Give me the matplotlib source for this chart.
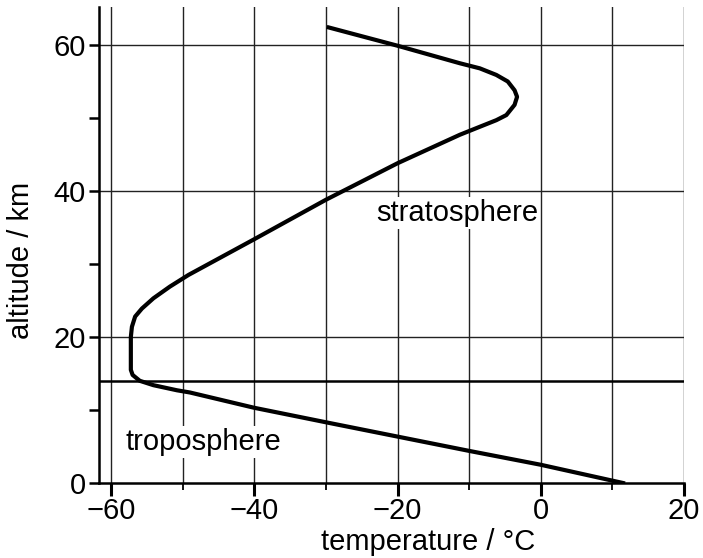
import numpy as np
import matplotlib.pyplot as plt
from matplotlib.ticker import MultipleLocator

plt.rcParams['font.family'] = ['Liberation Sans', 'DejaVu Sans']

# temperature profile (degC, km)
temp = [11.5, 0.0, -10.0, -29.4, -40.0, -49.0, -50.8, -54.1, -56.0, -57.0,
        -57.25, -57.25, -57.1, -56.65, -55.7, -54.1, -51.8, -49.2, -40.0, -30.0,
        -20.0, -11.3, -8.5, -6.2, -4.8, -3.65, -3.3, -3.65, -4.6, -6.2,
        -8.5, -11.3, -20.0, -29.6]
alt = [0.0, 2.5, 4.4, 8.2, 10.3, 12.4, 12.7, 13.4, 14.0, 14.8,
       15.5, 20.0, 21.4, 22.8, 23.9, 25.3, 26.9, 28.5, 33.4, 38.8,
       43.8, 47.7, 48.8, 49.7, 50.4, 51.8, 52.9, 53.8, 55.0, 55.9,
       56.8, 57.5, 59.9, 62.4]
tropopause = 14.0

fig = plt.figure(figsize=(7.03, 5.58), dpi=100)
ax = fig.add_axes([0.1408, 0.1344, 0.832, 0.853])

ax.set_xlim(-61.7, 20)
ax.set_ylim(0, 65.2)

# grid: every 10 degC, every 20 km
for xv in np.arange(-60, 21, 10):
    ax.axvline(xv, color='#222222', lw=1.0, zorder=1)
for yv in [20, 40, 60]:
    ax.axhline(yv, color='#222222', lw=1.0, zorder=1)

ax.axhline(tropopause, color='black', lw=1.8, zorder=2)
ax.plot(temp, alt, color='black', lw=3.0, solid_joinstyle='round', zorder=3)

box = dict(facecolor='white', edgecolor='none', pad=1.5)
ax.text(-58.0, 5.6, 'troposphere', fontsize=21, va='center', ha='left', bbox=box, zorder=4)
ax.text(-23.0, 37.0, 'stratosphere', fontsize=21, va='center', ha='left', bbox=box, zorder=4)

for s in ['top', 'right']:
    ax.spines[s].set_visible(False)
for s in ['left', 'bottom']:
    ax.spines[s].set_linewidth(1.8)

ax.xaxis.set_minor_locator(MultipleLocator(10))
ax.yaxis.set_minor_locator(MultipleLocator(10))
ax.set_xticks([-60, -40, -20, 0, 20])
ax.set_xticklabels(['\u221260', '\u221240', '\u221220', '0', '20'])
ax.set_yticks([0, 20, 40, 60])

ax.tick_params(axis='x', which='major', length=9, width=2.2, labelsize=21, pad=1)
ax.tick_params(axis='x', which='minor', length=5, width=1.3)
ax.tick_params(axis='y', which='major', length=7.5, width=1.8, labelsize=21, pad=2)
ax.tick_params(axis='y', which='minor', length=7.5, width=1.8)

ax.set_xlabel('temperature / °C', fontsize=21)
ax.set_ylabel('altitude / km', fontsize=21)
ax.xaxis.set_label_coords(0.562, -0.095)
ax.yaxis.set_label_coords(-0.11, 0.468)

plt.savefig('out.png', dpi=100)
